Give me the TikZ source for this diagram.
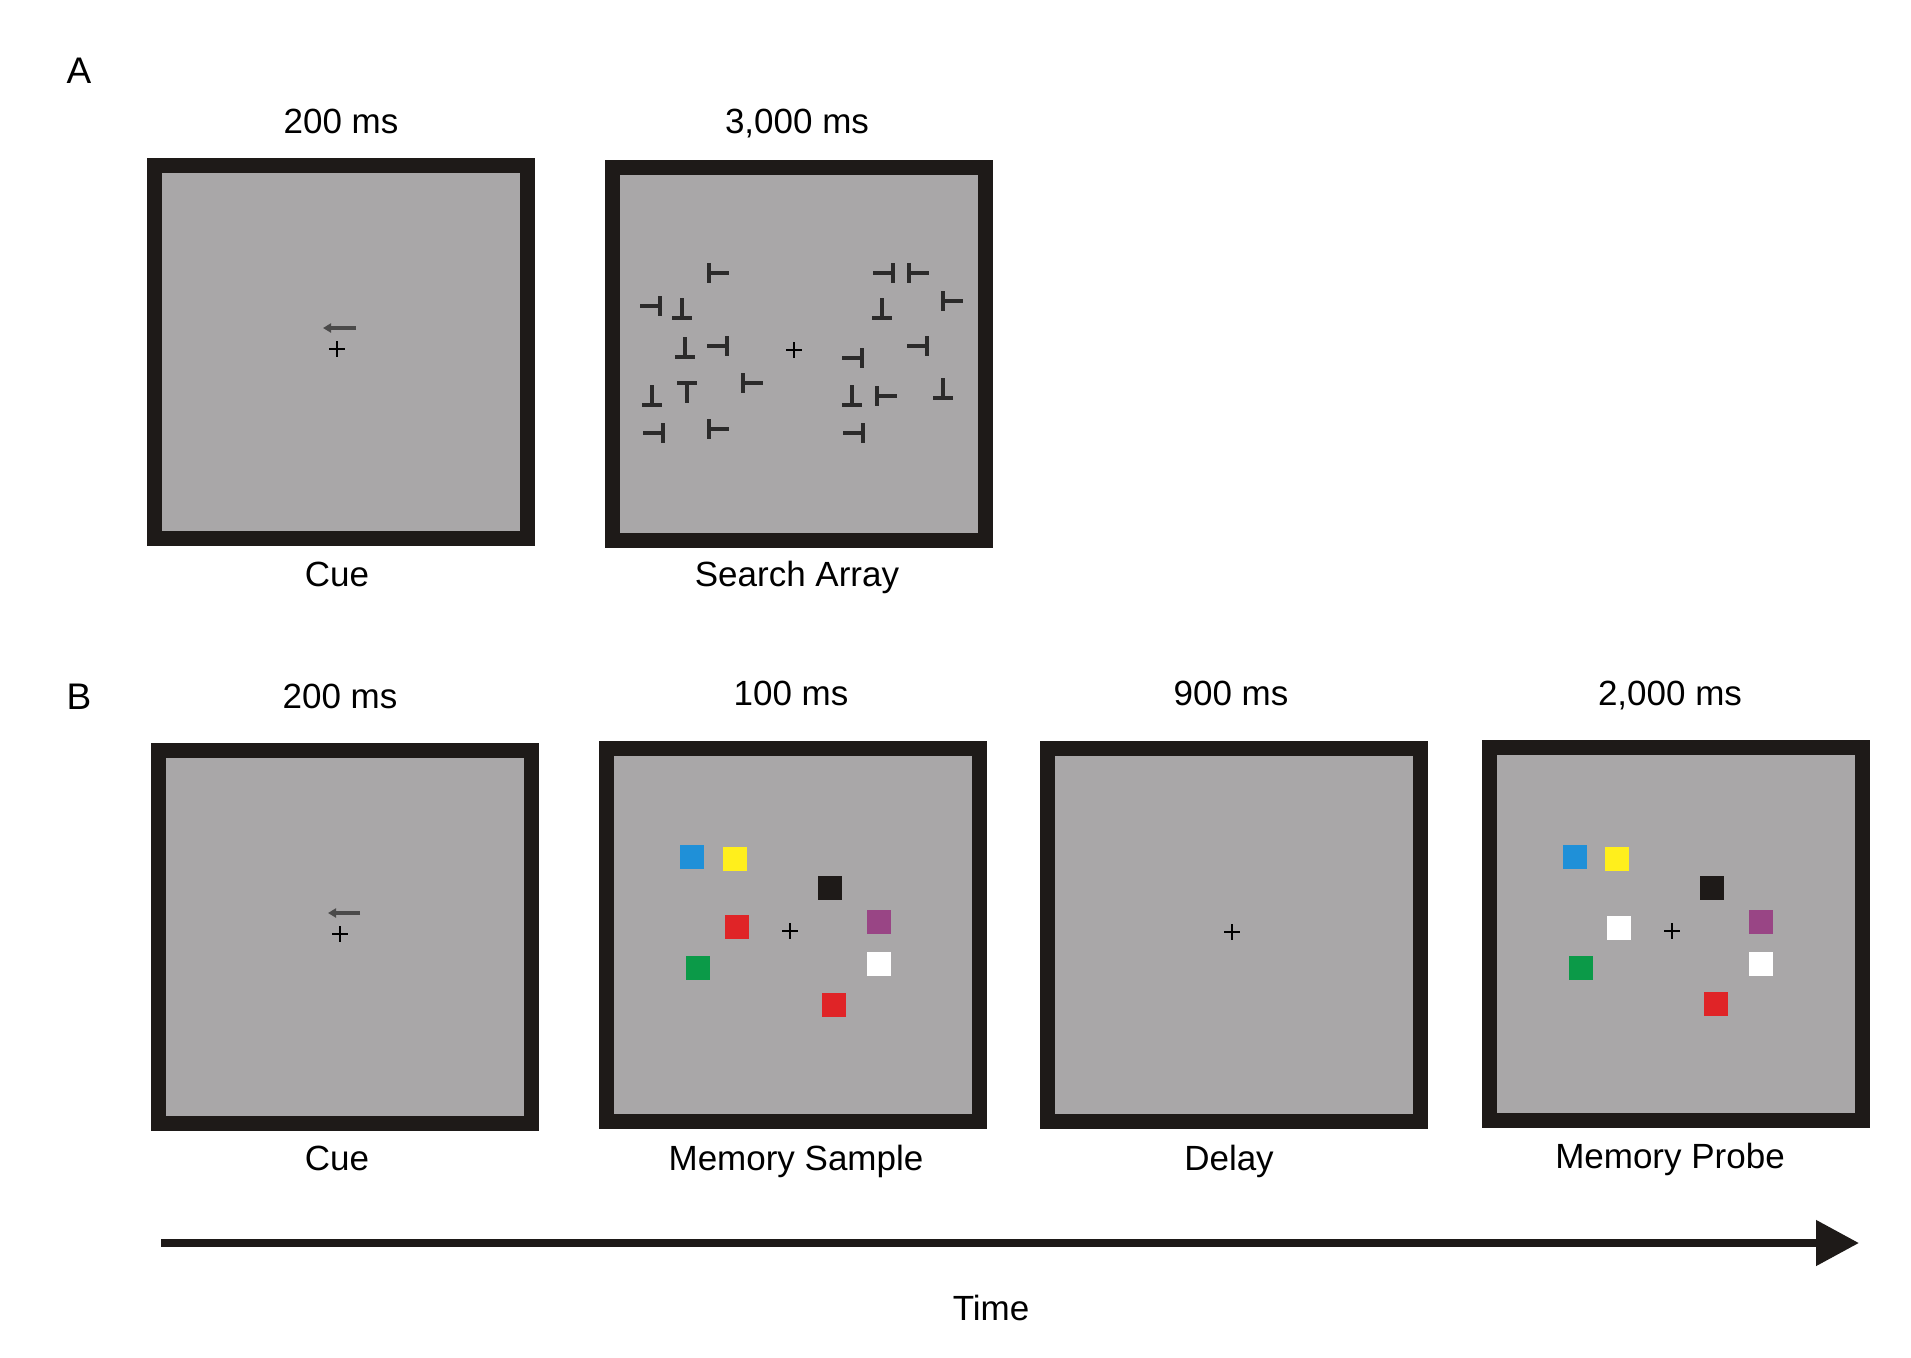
\documentclass[tikz,border=0pt]{standalone}
\usepackage{fontspec}
\setmainfont{Liberation Sans}
\usetikzlibrary{arrows.meta}
\definecolor{screengray}{HTML}{A9A7A8}
\definecolor{framecol}{HTML}{1E1A18}
\definecolor{teecol}{HTML}{2B2A2A}
\definecolor{cueblue}{HTML}{1F90D8}
\definecolor{cueyellow}{HTML}{FFEF1C}
\definecolor{cuered}{HTML}{E02427}
\definecolor{cuepurple}{HTML}{994585}
\definecolor{cuegreen}{HTML}{0B9A48}
\definecolor{cueblack}{HTML}{1E1A18}
\newcommand\sqr[3]{\fill[#3] (#1,#2) ++(-12,-12) rectangle ++(24,24);}
\newcommand\fixcross[2]{\draw[crossline] (#1,#2) ++(-8,0) -- ++(16,0) (#1,#2) ++(0,-8) -- ++(0,16);}
\begin{document}
\begin{tikzpicture}[x=1pt,y=-1pt,
  screen/.style={draw=framecol, fill=screengray, line width=15pt, minimum width=373pt, minimum height=373pt, inner sep=0pt, outer sep=0pt},
  lbl/.style={font=\fontsize{35}{42}\selectfont, inner sep=0pt, anchor=base},
  panel/.style={font=\fontsize{37}{44}\selectfont, inner sep=0pt, anchor=base},
  tstroke/.style={draw=teecol, line width=4pt},
  crossline/.style={draw=black, line width=2pt},
  cuearrow/.style={draw=teecol!85!white, line width=3.5pt, -{Triangle[length=8pt,width=9pt]}},
  timearrow/.style={draw=framecol, line width=8pt, -{Triangle[length=43pt,width=44pt]}},
  teeT/.pic={\draw[tstroke] (-10,-10) -- (10,-10) (0,-10) -- (0,10);},
  teeB/.pic={\draw[tstroke] (-10,10) -- (10,10) (0,10) -- (0,-10);},
  teeL/.pic={\draw[tstroke] (-10,-10) -- (-10,10) (-10,0) -- (10,0);},
  teeR/.pic={\draw[tstroke] (10,-10) -- (10,10) (10,0) -- (-10,0);}
]
\useasboundingbox[fill=white] (0,0) rectangle (1911,1357);

% ---------- Panel A ----------
\node[panel] (labA) at (79,83) {A};
\node[screen] (a1) at (341,352) {};
\node[screen] (a2) at (798.5,354) {};
\node[lbl] (a1t) at (341,133) {200 ms};
\node[lbl] (a2t) at (797,133) {3,000 ms};
\node[lbl] (a1b) at (337,586) {Cue};
\node[lbl] (a2b) at (797,586) {Search Array};

% cue A
\coordinate (ca1s) at (356,328);
\coordinate (ca1e) at (323,328);
\draw[cuearrow] (ca1s) -- (ca1e);
\fixcross{337}{349}

% search array
\fixcross{794}{350}
\pic at (719,273) {teeL};
\pic at (650,306) {teeR};
\pic at (682,308) {teeB};
\pic at (685,347) {teeB};
\pic at (717,346) {teeR};
\pic at (753,383) {teeL};
\pic at (652,395) {teeB};
\pic at (687,393) {teeT};
\pic at (653,433) {teeR};
\pic at (719,429) {teeL};
\pic at (883,273) {teeR};
\pic at (919,273) {teeL};
\pic at (953,301) {teeL};
\pic at (882,308) {teeB};
\pic at (917,346) {teeR};
\pic at (852,358) {teeR};
\pic at (943,388) {teeB};
\pic at (852,395) {teeB};
\pic at (887,396) {teeL};
\pic at (853,433) {teeR};

% ---------- Panel B ----------
\node[panel] (labB) at (79,709) {B};
\node[screen] (b1) at (344.5,936.5) {};
\node[screen] (b2) at (792.5,935) {};
\node[screen] (b3) at (1234,935) {};
\node[screen] (b4) at (1676,933.5) {};
\node[lbl] (b1t) at (340,708) {200 ms};
\node[lbl] (b2t) at (791,705) {100 ms};
\node[lbl] (b3t) at (1231,705) {900 ms};
\node[lbl] (b4t) at (1670,705) {2,000 ms};
\node[lbl] (b1b) at (337,1170) {Cue};
\node[lbl] (b2b) at (796,1170) {Memory Sample};
\node[lbl] (b3b) at (1229,1170) {Delay};
\node[lbl] (b4b) at (1670,1168) {Memory Probe};

% cue B
\coordinate (cb1s) at (360,913);
\coordinate (cb1e) at (328,913);
\draw[cuearrow] (cb1s) -- (cb1e);
\fixcross{340}{934}

% memory sample
\fixcross{790}{931}
\sqr{692}{857}{cueblue}
\sqr{735}{859}{cueyellow}
\sqr{830}{888}{cueblack}
\sqr{737}{927}{cuered}
\sqr{879}{922}{cuepurple}
\sqr{698}{968}{cuegreen}
\sqr{879}{964}{white}
\sqr{834}{1005}{cuered}

% delay
\fixcross{1232}{932}

% memory probe
\fixcross{1672}{931}
\sqr{1575}{857}{cueblue}
\sqr{1617}{859}{cueyellow}
\sqr{1712}{888}{cueblack}
\sqr{1619}{928}{white}
\sqr{1761}{922}{cuepurple}
\sqr{1581}{968}{cuegreen}
\sqr{1761}{964}{white}
\sqr{1716}{1004}{cuered}

% time arrow
\coordinate (tstart) at (161,1243);
\coordinate (tend) at (1859,1243);
\draw[timearrow] (tstart) -- (tend);
\node[lbl] (timel) at (991,1320) {Time};
\end{tikzpicture}
\end{document}
